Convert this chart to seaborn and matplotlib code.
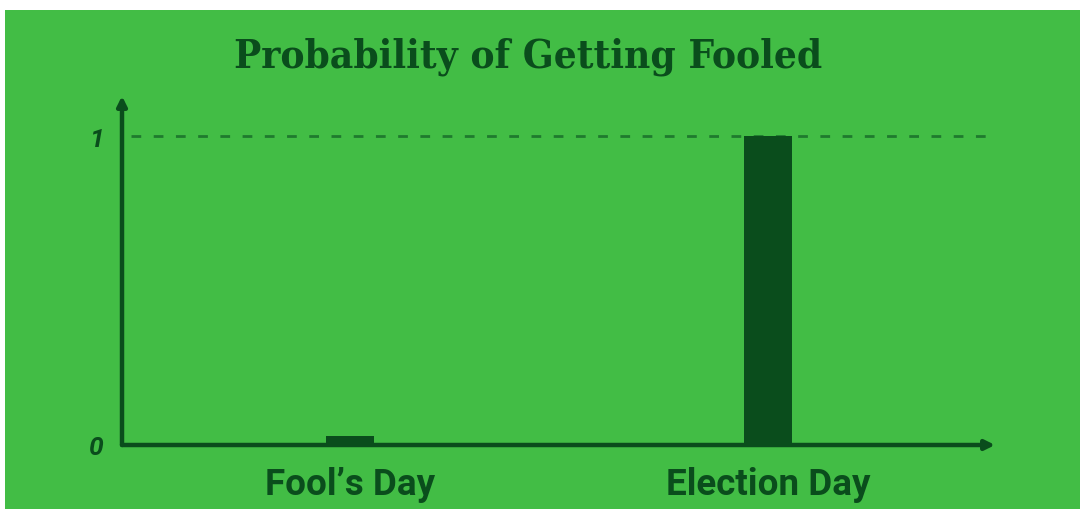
import matplotlib.pyplot as plt
import matplotlib.patches as mpatches
import seaborn as sns

CATEGORIES = ["Fool\u2019s Day", "Election Day"]
PROBABILITY = [0.03, 1.0]
Y_TICKS = [0, 1]
Y_TICK_LABELS = ["0", "1"]
TITLE = "Probability of Getting Fooled"

GREEN = "#42bd45"
DARK = "#0a4d1c"
MID = "#1f7a2e"

sns.set_theme(style="white")
plt.rcParams["font.family"] = ["Roboto", "DejaVu Sans"]

fig = plt.figure(figsize=(10.8, 5.1), dpi=100, facecolor="white")
# green panel (the original has a thin white strip at top and left)
fig.patches.append(mpatches.Rectangle((5 / 1080, 0), 1, 1 - 11 / 510,
                                      transform=fig.transFigure,
                                      facecolor=GREEN, edgecolor="none", zorder=-10))

ax = fig.add_axes([122 / 1080, 64 / 510, 873 / 1080, 349 / 510])
ax.set_facecolor("none")
ax.set_zorder(5)

sns.barplot(x=CATEGORIES, y=PROBABILITY, ax=ax, color=DARK, saturation=1,
            width=0.115, linewidth=0, zorder=3)

ax.set_xlim(-0.545, 1.543)
ax.set_ylim(0, 1.13)

ax.axhline(1, xmin=0.01, xmax=0.995, color=MID, lw=2, ls=(0, (3.5, 4.5)), zorder=2)

for side in ["top", "right", "left", "bottom"]:
    ax.spines[side].set_visible(False)

arrow = dict(arrowstyle="-|>", color=DARK, lw=3.2, mutation_scale=14, shrinkA=0, shrinkB=0)
ax.annotate("", xy=(1, 0), xytext=(0, 0), xycoords="axes fraction", arrowprops=arrow)
ax.annotate("", xy=(0, 1), xytext=(0, 0), xycoords="axes fraction", arrowprops=arrow)

ax.set_yticks(Y_TICKS)
ax.set_yticklabels(Y_TICK_LABELS, fontsize=19, fontweight="bold", fontstyle="italic",
                   color=DARK)
ax.tick_params(axis="y", length=0, pad=13)
ax.tick_params(axis="x", length=0, pad=15)
for lab in ax.get_xticklabels():
    lab.set_fontsize(26.5)
    lab.set_fontweight("bold")
    lab.set_color(DARK)
ax.set_xlabel("")
ax.set_ylabel("")

fig.text(528 / 1080, 1 - 57 / 510, TITLE, ha="center", va="center",
         fontsize=29, fontweight="bold", fontstretch="condensed", color=DARK,
         family=["DejaVu Serif"])

fig.savefig("out.png", dpi=100, facecolor=fig.get_facecolor())
